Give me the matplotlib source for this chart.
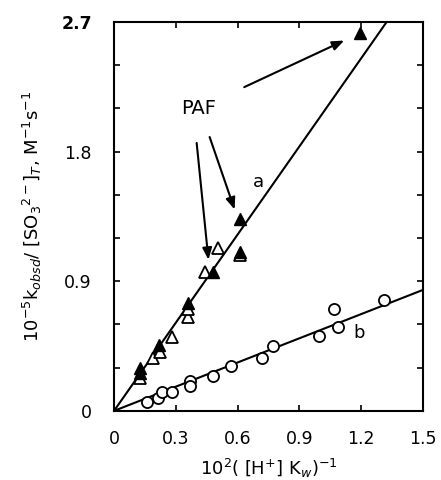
import matplotlib
matplotlib.use("Agg")
import matplotlib.pyplot as plt
import numpy as np

# series a: filled triangles (PAF) and open triangles
a_fill_x = [0.125, 0.125, 0.22, 0.36, 0.48, 0.61, 0.61, 1.195]
a_fill_y = [0.30, 0.26, 0.46, 0.75, 0.965, 1.10, 1.33, 2.625]
a_open_x = [0.125, 0.19, 0.225, 0.28, 0.36, 0.36, 0.44, 0.505, 0.61]
a_open_y = [0.23, 0.37, 0.41, 0.51, 0.65, 0.71, 0.965, 1.13, 1.08]
# series b: open circles
b_x = [0.16, 0.215, 0.235, 0.28, 0.37, 0.37, 0.48, 0.57, 0.72, 0.77, 0.995, 1.07, 1.09, 1.31]
b_y = [0.063, 0.09, 0.13, 0.13, 0.21, 0.17, 0.24, 0.31, 0.37, 0.45, 0.52, 0.71, 0.58, 0.77]
slope_a = 2.04
slope_b = 0.56

fig = plt.figure(figsize=(4.41, 4.8), dpi=100)
ax = fig.add_axes([0.2585, 0.144, 0.7005, 0.81])
ax.set_xlim(0, 1.5)
ax.set_ylim(0, 2.7)

xx = np.array([0, 1.5])
ax.plot(xx, slope_a*xx, color='black', lw=1.5)
ax.plot(xx, slope_b*xx, color='black', lw=1.5)

ax.plot(a_open_x, a_open_y, '^', ms=8, mfc='white', mec='black', mew=1.3, ls='none')
ax.plot(a_fill_x, a_fill_y, '^', ms=8, mfc='black', mec='black', ls='none')
ax.plot(b_x, b_y, 'o', ms=8, mfc='white', mec='black', mew=1.3, ls='none')

ax.text(0.70, 1.59, 'a', fontsize=13, ha='center', va='center')
ax.text(1.19, 0.54, 'b', fontsize=13, ha='center', va='center')
ax.text(0.41, 2.10, 'PAF', fontsize=14, ha='center', va='center')

arr = dict(arrowstyle='-|>,head_length=0.5,head_width=0.2', color='black', lw=1.5, mutation_scale=14)
ax.annotate('', xy=(1.13, 2.58), xytext=(0.62, 2.24), arrowprops=arr)
ax.annotate('', xy=(0.59, 1.38), xytext=(0.46, 1.92), arrowprops=arr)
ax.annotate('', xy=(0.46, 1.03), xytext=(0.40, 1.88), arrowprops=arr)

ax.set_xticks(np.arange(0, 1.51, 0.3))
ax.set_xticklabels(['0', '0.3', '0.6', '0.9', '1.2', '1.5'])
yt = np.arange(0, 2.71, 0.3)
ax.set_yticks(yt)
ax.set_yticklabels(['0', '', '', '0.9', '', '', '1.8', '', '', '2.7'])
ax.tick_params(direction='in', top=True, right=True, length=4, width=1.2,
               labelsize=12.5)
ax.tick_params(axis='x', pad=14)
ax.tick_params(axis='y', pad=16)
for s in ax.spines.values():
    s.set_linewidth(1.5)
for t in ax.get_yticklabels():
    if t.get_text() == '2.7':
        t.set_fontweight('bold')

ax.set_xlabel(r'10$^2$( [H$^{+}$] K$_w$)$^{-1}$', fontsize=13, labelpad=6)
ax.set_ylabel(r'10$^{-5}$k$_{obsd}$/ [SO$_3$$^{2-}$]$_T$, M$^{-1}$s$^{-1}$', fontsize=13, labelpad=12)

fig.savefig('out.png', dpi=100)
